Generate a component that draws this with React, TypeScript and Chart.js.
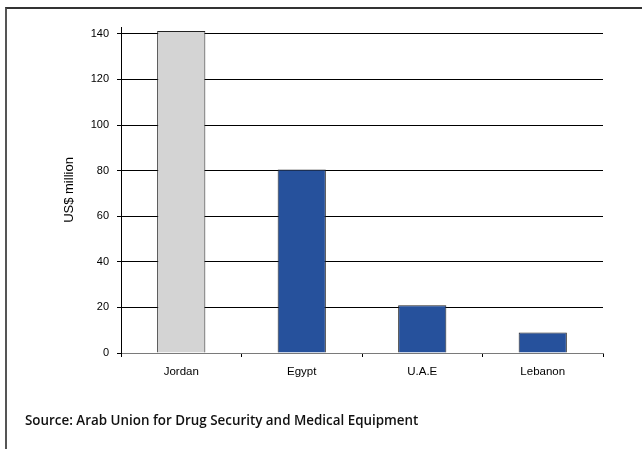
import React, { useEffect, useRef } from "react";
import { Chart, registerables } from "chart.js";

Chart.register(...registerables);

// Pharmaceutical exports by country, US$ million
const countries = ["Jordan", "Egypt", "U.A.E", "Lebanon"];
const exportValues = [141.3, 80.5, 21, 9];
const barColors = ["#d4d4d4", "#26519c", "#26519c", "#26519c"];
const yTickStep = 20;
const yMax = 143;
const yTitle = "US$ million";
const sourceNote = "Source: Arab Union for Drug Security and Medical Equipment";

export default function App() {
  const canvasRef = useRef<HTMLCanvasElement | null>(null);

  useEffect(() => {
    if (!canvasRef.current) return;
    const chart = new Chart(canvasRef.current, {
      type: "bar",
      data: {
        labels: countries,
        datasets: [
          {
            data: exportValues,
            backgroundColor: barColors,
            borderColor: "#222",
            borderWidth: 1,
            barPercentage: 0.4,
            categoryPercentage: 1,
          },
        ],
      },
      options: {
        animation: false,
        responsive: false,
        maintainAspectRatio: false,
        layout: { padding: { left: 58, top: 27, right: 39, bottom: 0 } },
        plugins: {
          legend: { display: false },
          tooltip: { enabled: false },
        },
        scales: {
          x: {
            afterFit: (scale: any) => {
              scale.height = 96;
            },
            grid: {
              offset: true,
              drawOnChartArea: false,
              drawTicks: true,
              tickLength: 4,
              color: "#000",
            },
            border: { color: "#7a7a7a", width: 1 },
            ticks: {
              color: "#000",
              padding: 8,
              font: { family: "Liberation Sans", size: 11.5 },
            },
          },
          y: {
            min: 0,
            max: yMax,
            afterFit: (scale: any) => {
              scale.width = 63;
            },
            grid: {
              color: "#000",
              lineWidth: 1,
              tickLength: 4,
            },
            border: { color: "#000", width: 1 },
            ticks: {
              stepSize: yTickStep,
              includeBounds: false,
              color: "#000",
              padding: 8,
              font: { family: "Liberation Sans", size: 11 },
            },
            title: {
              display: true,
              text: yTitle,
              color: "#000",
              font: { family: "Liberation Sans", size: 13 },
              padding: { top: 4, bottom: 0 },
            },
          },
        },
      },
    });
    return () => chart.destroy();
  }, []);

  return (
    <div
      style={{
        position: "fixed",
        left: 0,
        top: 0,
        width: 642,
        height: 449,
        background: "#fff",
        overflow: "hidden",
      }}
    >
      <div
        style={{
          position: "absolute",
          left: 5,
          top: 7,
          right: 0,
          bottom: 0,
          borderTop: "2px solid #333",
          borderLeft: "2px solid #555",
        }}
      />
      <canvas
        ref={canvasRef}
        width={642}
        height={449}
        style={{ position: "absolute", left: 0, top: 0, width: 642, height: 449 }}
      />
      <div
        style={{
          position: "absolute",
          left: 25,
          top: 411,
          fontFamily: "'Open Sans', sans-serif",
          fontWeight: 600,
          fontSize: 13.4,
          color: "#111",
          whiteSpace: "nowrap",
        }}
      >
        {sourceNote}
      </div>
    </div>
  );
}
